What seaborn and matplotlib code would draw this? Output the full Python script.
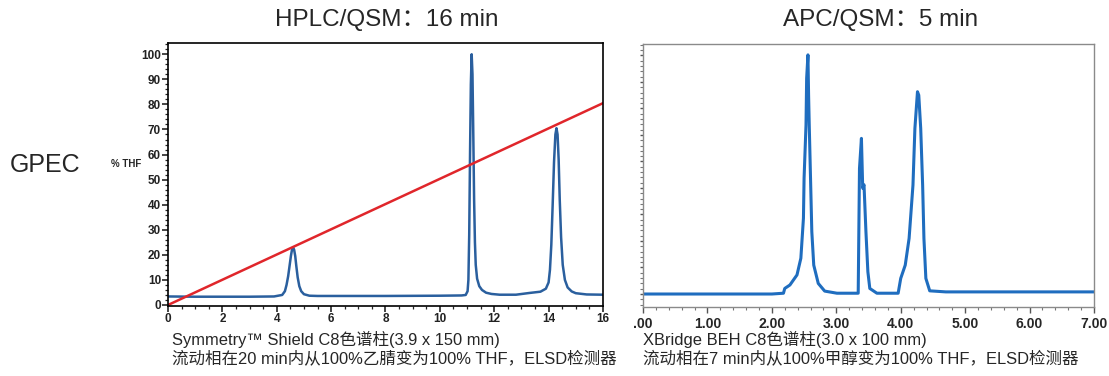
import numpy as np
import pandas as pd
import matplotlib
matplotlib.use("Agg")
import matplotlib.pyplot as plt
from matplotlib.ticker import MultipleLocator, FixedFormatter, FixedLocator
import seaborn as sns

# --- data ---
hplc_time = [0, 1, 2, 3, 3.9, 4.2, 4.3, 4.36, 4.42, 4.47, 4.52, 4.56, 4.6, 4.64,
             4.68, 4.72, 4.77, 4.83, 4.9, 5.0, 5.2, 5.5, 6, 8, 10, 10.8, 10.95,
             11.02, 11.05, 11.08, 11.11, 11.14, 11.17, 11.2, 11.23, 11.26, 11.29,
             11.32, 11.37, 11.45, 11.55, 11.7, 11.9, 12.2, 12.8, 13.3, 13.7, 13.9,
             14.0, 14.05, 14.1, 14.15, 14.2, 14.25, 14.29, 14.33, 14.37, 14.41,
             14.46, 14.52, 14.6, 14.7, 14.85, 15.0, 15.4, 16]
hplc_signal = [3.4, 3.3, 3.3, 3.3, 3.4, 4.0, 5.5, 8, 11.5, 15.5, 19.5, 22, 23, 22,
               19.5, 15.5, 11, 7.5, 5.5, 4.3, 3.7, 3.6, 3.6, 3.6, 3.7, 3.8, 4.0,
               5.5, 10, 28, 60, 88, 100, 92, 68, 42, 25,
               16, 10.5, 7.5, 6, 4.9, 4.4, 4.1, 4.1, 4.8, 5.3, 6.5,
               9, 14, 24, 40, 57, 68, 70.5, 68, 58, 42,
               27, 16, 10, 7, 5.4, 4.7, 4.2, 4.1]
gradient_time = [0, 16]
gradient_thf = [0, 80.5]

apc_time = [0, 1, 2, 2.18, 2.2, 2.28, 2.39, 2.45, 2.49, 2.5, 2.53, 2.54, 2.56, 2.57,
            2.58, 2.6, 2.62, 2.65, 2.72, 2.82, 3.01, 3.34, 3.36, 3.39, 3.41, 3.43,
            3.46, 3.49, 3.52, 3.63, 3.96, 4.0, 4.07, 4.13, 4.19, 4.22, 4.26, 4.28,
            4.31, 4.34, 4.36, 4.39, 4.45, 4.7, 7]
apc_signal = [0, 0, 0, 0.03, 0.21, 0.34, 0.72, 1.35, 2.86, 4.37, 6.38, 8.14, 9.02, 7.5,
              6.38, 4.37, 2.35, 1.09, 0.4, 0.11, 0.03, 0.03, 4.74, 5.87, 3.99, 4.12,
              2.35, 0.84, 0.21, 0.03, 0.03, 0.59, 1.09, 2.1, 4.11, 6.25, 7.63, 7.5,
              6.25, 4.11, 2.1, 0.59, 0.12, 0.08, 0.08]

apc_xticks = [0, 1, 2, 3, 4, 5, 6, 7]
apc_xlabels = [".00", "1.00", "2.00", "3.00", "4.00", "5.00", "6.00", "7.00"]

hplc_df = pd.DataFrame({"time": hplc_time, "signal": hplc_signal})
grad_df = pd.DataFrame({"time": gradient_time, "thf": gradient_thf})
apc_df = pd.DataFrame({"time": apc_time, "signal": apc_signal})

sns.set_style("ticks")
plt.rcParams['font.family'] = ['Liberation Sans', 'Noto Sans CJK SC', 'DejaVu Sans']

fig = plt.figure(figsize=(11.09, 3.76), dpi=100)
ax1 = fig.add_axes([0.1515, 0.1862, 0.3922, 0.6995])
ax2 = fig.add_axes([0.5798, 0.1835, 0.4067, 0.6995])

# --- left: HPLC ---
sns.lineplot(data=hplc_df, x="time", y="signal", ax=ax1, color="#2a5f9e", linewidth=1.8)
sns.lineplot(data=grad_df, x="time", y="thf", ax=ax1, color="#e0262b", linewidth=1.8)
ax1.set_xlim(0, 16)
ax1.set_ylim(-0.4, 104.5)
ax1.xaxis.set_major_locator(MultipleLocator(2))
ax1.xaxis.set_minor_locator(MultipleLocator(0.5))
ax1.yaxis.set_major_locator(MultipleLocator(10))
ax1.yaxis.set_minor_locator(MultipleLocator(2))
ax1.tick_params(which="major", length=4, width=1.2, labelsize=8.5, pad=1, labelcolor="#222222")
ax1.tick_params(which="minor", length=2.5, width=0.9)
for lbl in ax1.get_xticklabels() + ax1.get_yticklabels():
    lbl.set_fontweight("bold")
for s in ax1.spines.values():
    s.set_visible(True)
    s.set_linewidth(1.2)
    s.set_color("black")
ax1.set_xlabel("")
ax1.set_ylabel("")

# --- right: APC ---
sns.lineplot(data=apc_df, x="time", y="signal", ax=ax2, color="#1f6dbf", linewidth=2.2)
ax2.set_xlim(0, 7)
ax2.set_ylim(-0.49, 9.43)
ax2.xaxis.set_major_locator(FixedLocator(apc_xticks))
ax2.xaxis.set_major_formatter(FixedFormatter(apc_xlabels))
ax2.xaxis.set_minor_locator(MultipleLocator(0.2))
ax2.yaxis.set_major_locator(MultipleLocator(1))
ax2.yaxis.set_minor_locator(MultipleLocator(0.2))
ax2.set_yticklabels([])
ax2.tick_params(which="major", length=4, width=1, labelsize=10, pad=3, color="#555555")
ax2.tick_params(which="minor", length=2, width=0.8, color="#777777")
ax2.tick_params(axis="y", which="major", length=2.5)
for lbl in ax2.get_xticklabels():
    lbl.set_fontweight("bold")
for s in ax2.spines.values():
    s.set_visible(True)
    s.set_linewidth(1.0)
    s.set_color("#8a8a8a")
ax2.set_xlabel("")
ax2.set_ylabel("")

# --- texts ---
fig.text(0.349, 0.947, "HPLC/QSM：16 min", ha="center", va="center", fontsize=17.5)
fig.text(0.794, 0.947, "APC/QSM：5 min", ha="center", va="center", fontsize=17.5)
fig.text(0.009, 0.561, "GPEC", ha="left", va="center", fontsize=18)
fig.text(0.100, 0.564, "% THF", ha="left", va="center", fontsize=7, fontweight="bold")

fig.text(0.155, 0.098, "Symmetry™ Shield C8色谱柱(3.9 x 150 mm)", ha="left", va="center", fontsize=11.9)
fig.text(0.155, 0.046, "流动相在20 min内从100%乙腈变为100% THF，ELSD检测器", ha="left", va="center", fontsize=11.9)
fig.text(0.580, 0.098, "XBridge BEH C8色谱柱(3.0 x 100 mm)", ha="left", va="center", fontsize=11.9)
fig.text(0.580, 0.046, "流动相在7 min内从100%甲醇变为100% THF，ELSD检测器", ha="left", va="center", fontsize=11.9)

fig.savefig("out.png", dpi=100, facecolor="white")
